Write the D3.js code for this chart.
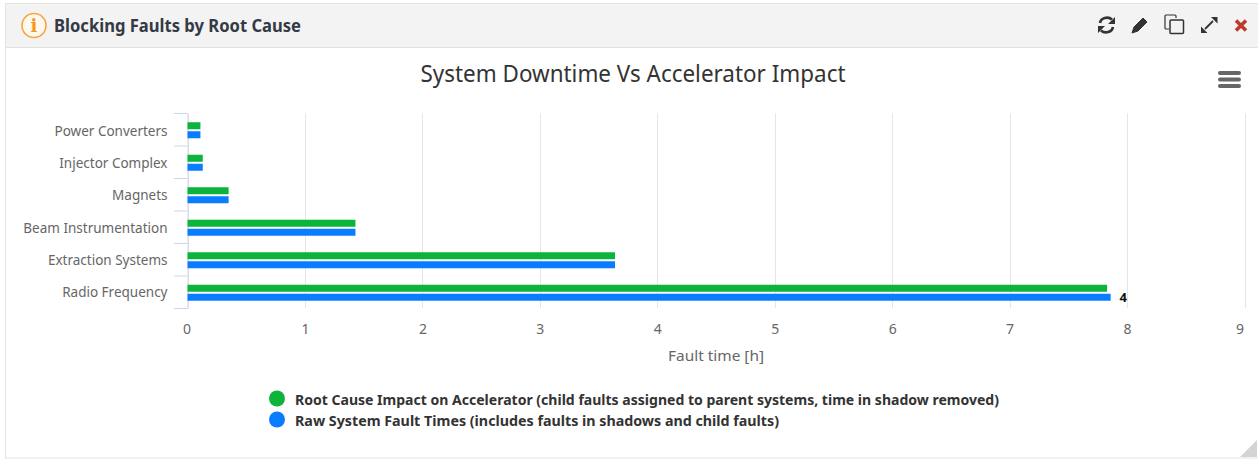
<!DOCTYPE html>
<html><head><meta charset="utf-8">
<script src="https://cdnjs.cloudflare.com/ajax/libs/d3/7.8.5/d3.min.js"></script>
<style>html,body{margin:0;padding:0;background:#fff;overflow:hidden}svg{display:block}
text{font-family:"Noto Sans",Lato,sans-serif}</style></head><body>
<svg id="c" width="1258" height="460"></svg>
<script>
const categories=["Power Converters","Injector Complex","Magnets","Beam Instrumentation","Extraction Systems","Radio Frequency"];
const rootCause=[0.11,0.13,0.35,1.43,3.64,7.83];
const rawFault=[0.11,0.13,0.35,1.43,3.64,7.86];
const xTicks=[0,1,2,3,4,5,6,7,8,9];
const seriesNames=["Root Cause Impact on Accelerator (child faults assigned to parent systems, time in shadow removed)","Raw System Fault Times (includes faults in shadows and child faults)"];
const seriesColors=["#0cb43c","#0a7cff"];
const barLabel="4";
const svg=d3.select("#c");
// panel
svg.append("rect").attr("x",5.5).attr("y",3.5).attr("width",1260).attr("height",454.5).attr("fill","#fff").attr("stroke","#e4e4e4");
svg.append("rect").attr("x",6).attr("y",4).attr("width",1252).attr("height",43).attr("fill","#f3f3f3");
svg.append("line").attr("x1",6).attr("x2",1258).attr("y1",47.5).attr("y2",47.5).attr("stroke","#e2e2e2");
// info icon
svg.append("circle").attr("cx",34).attr("cy",25.5).attr("r",12).attr("fill","#fff8ee").attr("stroke","#f3a63c").attr("stroke-width",1.6);
svg.append("text").attr("x",34).attr("y",32).attr("text-anchor","middle").attr("font-size",18).attr("font-weight",700).attr("fill","#f09a1e").style("font-family","'DejaVu Serif',serif").text("i");
svg.append("text").attr("x",54).attr("y",32).attr("font-size",17).attr("font-weight",700).attr("fill","#333a45").attr("textLength",247).attr("lengthAdjust","spacingAndGlyphs").text("Blocking Faults by Root Cause");
// toolbar icons
const ic=svg.append("g").attr("fill","none").attr("stroke","#333").attr("stroke-width",2.6);
ic.append("path").attr("d","M1100 23a7 6 0 0 1 12-3.500M1113 27a7 6 0 0 1-12 3.500");
ic.append("path").attr("d","M1115 17v7h-7zM1098 33v-7h7z").attr("fill","#333").attr("stroke","none");
ic.append("path").attr("d","M1132 33l2-6 9-9 4 4-9 9z").attr("fill","#333").attr("stroke-width",1);
ic.append("path").attr("d","M1176 18v-2a1 1 0 0 0-1-1h-9a1 1 0 0 0-1 1v12a1 1 0 0 0 1 1h3").attr("stroke-width",1.2);
ic.append("rect").attr("x",1170).attr("y",20).attr("width",13.500).attr("height",13.500).attr("rx",1).attr("stroke-width",1.5);
ic.append("path").attr("d","M1205 29l8-8").attr("stroke-width",1.8);
ic.append("path").attr("d","M1211 17h6.500v6.500zM1201 26.500v6.500h6.500z").attr("fill","#333").attr("stroke","none");
ic.append("path").attr("d","M1236 20.500l10 10M1246 20.500l-10 10").attr("stroke","#c0392b").attr("stroke-width",3.6);
// resize corner
svg.append("path").attr("d","M1240 457L1257 440V457Z").attr("fill","#d4d4d4");
// hamburger
svg.selectAll(".h").data([0,1,2]).join("rect").attr("x",1218).attr("y",d=>71+d*6.500).attr("width",23).attr("height",4).attr("rx",2).attr("fill","#666");
// title
svg.append("text").attr("x",633).attr("y",82).attr("text-anchor","middle").attr("font-size",23).attr("fill","#333").attr("textLength",425).attr("lengthAdjust","spacingAndGlyphs").text("System Downtime Vs Accelerator Impact");
// scales
const x=d3.scaleLinear().domain([0,9]).range([187.5,1244.5]);
const y=d3.scaleBand().domain(categories).range([113.5,308.5]);
const y2=d3.scaleBand().domain([0,1]).range([0.5,y.bandwidth()+0.5]).paddingInner(0.222).paddingOuter(0.917);
// grid
svg.append("g").selectAll("line").data(xTicks).join("line").attr("x1",d=>Math.round(x(d))+.5).attr("x2",d=>Math.round(x(d))+.5).attr("y1",113.5).attr("y2",308).attr("stroke","#e6e6e6");
// y axis
const yAxis=d3.axisLeft(y).tickSize(0).tickPadding(20);
const gy=svg.append("g").attr("transform","translate(187.5,0)").call(yAxis);
gy.select(".domain").attr("stroke","#ccd6eb");
gy.selectAll("text").attr("font-size",13.5).attr("fill","#666").attr("y",(d,i)=>2-i*0.3);
svg.append("g").selectAll("line").data(d3.range(7)).join("line").attr("x1",174).attr("x2",187.5).attr("y1",d=>113.5+d*y.step()).attr("y2",d=>113.5+d*y.step()).attr("stroke","#ccd6eb");
// bars
[rootCause,rawFault].forEach((vals,s)=>{
 svg.append("g").selectAll("rect").data(vals).join("rect")
 .attr("x",x(0)).attr("y",(d,i)=>y(categories[i])+y2(s)).attr("width",d=>x(d)-x(0)).attr("height",y2.bandwidth())
 .attr("fill",seriesColors[s]);
});
svg.append("text").attr("x",x(rawFault[5])+9).attr("y",y(categories[5])+y2(1)+y2.bandwidth()/2+5).attr("font-size",13).attr("font-weight",700).attr("fill","#111").text(barLabel);
// x axis
const xAxis=d3.axisBottom(x).tickValues(xTicks).tickSize(0).tickPadding(0).tickFormat(d3.format("d"));
const gx=svg.append("g").attr("transform","translate(0,320)").call(xAxis);
gx.select(".domain").remove();
gx.selectAll("text").attr("font-size",14).attr("fill","#666").attr("y",0).attr("dy","1em");
gx.selectAll("text").filter(d=>d===9).attr("dx",-5);
gx.selectAll("text").filter(d=>d===0).attr("dx",-1);
svg.append("text").attr("x",716).attr("y",361).attr("text-anchor","middle").attr("font-size",14).attr("fill","#666").attr("textLength",96).attr("lengthAdjust","spacingAndGlyphs").text("Fault time [h]");
// legend
const lw=[704,484];
seriesNames.forEach((n,i)=>{
 svg.append("circle").attr("cx",277).attr("cy",398.5+i*21).attr("r",8).attr("fill",seriesColors[i]);
 svg.append("text").attr("x",295).attr("y",405+i*21).attr("font-size",14).attr("font-weight",700).attr("fill","#333").attr("textLength",lw[i]).attr("lengthAdjust","spacingAndGlyphs").text(n);
});
</script></body></html>
